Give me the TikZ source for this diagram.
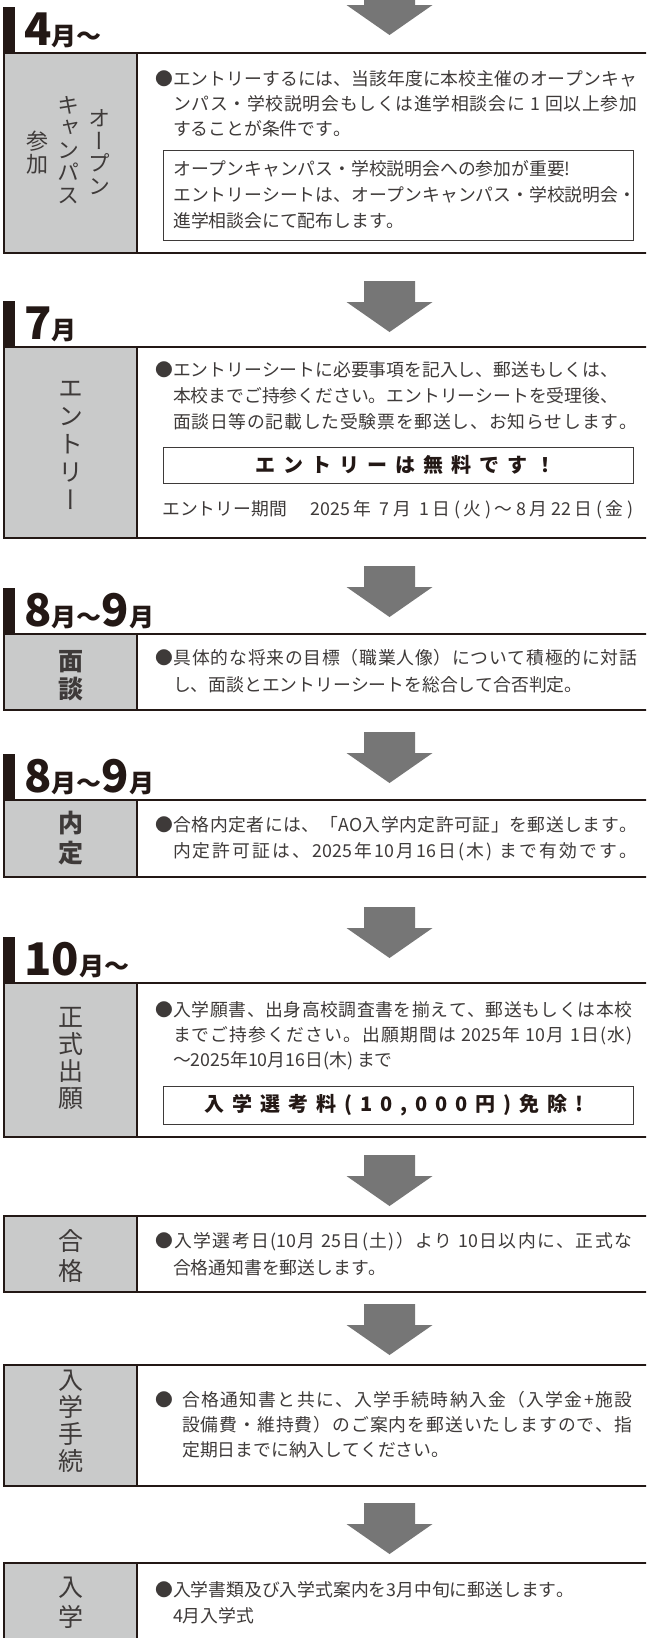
\documentclass[tikz,border=0pt]{standalone}
\usepackage{fontspec}
\newfontfamily\jp{Noto Sans CJK JP}
\newfontfamily\jpv[RawFeature=+vert]{Noto Sans CJK JP}
\newfontfamily\jpsp[LetterSpace=40]{Noto Sans CJK JP}
\newcount\cjkc
\def\setcjkrange#1#2{\cjkc=#1\relax
  \loop \XeTeXcharclass\cjkc=1\relax \advance\cjkc by 1\relax
  \ifnum\cjkc<#2\relax \repeat}
\setcjkrange{"3000}{"3100}
\setcjkrange{"4E00}{"A000}
\setcjkrange{"FF01}{"FF61}
\XeTeXinterchartokenstate=1
\newcommand{\jglue}{\hskip 0pt plus 1pt\relax}
\XeTeXinterchartoks 1 1 = {\jglue}
\XeTeXinterchartoks 0 1 = {\jglue}
\XeTeXinterchartoks 1 0 = {\jglue}
\definecolor{ink}{HTML}{231815}
\definecolor{txt}{HTML}{3E3A39}
\definecolor{colgray}{HTML}{C9CACA}
\definecolor{arrowgray}{HTML}{767676}
\newcommand{\jline}[2]{\hbox to #1pt{\spaceskip 0.25em plus 1pt\relax #2}}
\newcommand{\jind}{\hspace*{17.8pt}}
\newcommand{\nols}{\lineskiplimit -60pt\relax}
\newcommand{\nointer}{\XeTeXinterchartokenstate 0\relax}
\newcommand{\blockarrow}[2]{%
  \coordinate (#1) at (389.5,#2);
  \fill[arrowgray] ([shift={(-25.5,-51)}]#1) -- ([shift={(25.5,-51)}]#1)
    -- ([shift={(25.5,-30)}]#1) -- ([shift={(43,-30)}]#1) -- (#1)
    -- ([shift={(-43,-30)}]#1) -- ([shift={(-25.5,-30)}]#1) -- cycle;}
\tikzset{
  mainbox/.style={draw=ink, line width=2pt, fill=white, anchor=north west, minimum width=720pt, inner sep=0pt, outer sep=0pt},
  leftcol/.style={draw=ink, line width=2pt, fill=colgray, anchor=north west, minimum width=133pt, inner sep=0pt, outer sep=0pt},
  hdrbar/.style={fill=ink, anchor=south west, minimum width=12pt, minimum height=46pt, inner sep=0pt, outer sep=0pt},
  hdr/.style={anchor=base west, inner sep=0pt, text=ink, font=\jp\bfseries},
  body/.style={anchor=base west, inner sep=0pt, align=left, text=txt, font=\jp\fontsize{17.8}{#1}\selectfont\nols},
  body/.default=25.5,
  vlabel/.style={inner sep=0pt, align=center, text=txt, font=\jpv\fontsize{25}{#1}\selectfont\nols},
  vlabel/.default=28,
  vlabelb/.style={inner sep=0pt, align=center, text=txt, font=\jpv\bfseries\fontsize{25}{#1}\selectfont\nols},
  vlabelb/.default=28,
  vsmall/.style={inner sep=0pt, align=center, text=txt, font=\jpv\fontsize{22}{22.6}\selectfont\nols},
  notebox/.style={draw=txt, line width=0.9pt, anchor=north west, inner sep=0pt, minimum width=470pt},
  notetitle/.style={inner sep=0pt, text=ink, font=\nointer\jpsp\bfseries\fontsize{20}{20}\selectfont},
}
\newcommand{\hbig}[1]{{\fontsize{45}{45}\selectfont #1}}
\newcommand{\hsm}[1]{{\fontsize{25}{25}\selectfont #1}}
\begin{document}
\begin{tikzpicture}[x=1pt,y=-1pt]
\useasboundingbox (0,0) rectangle (646,1638);
\clip (0,0) rectangle (646,1638);
\fill[white] (0,0) rectangle (646,1638);

% arrows
\blockarrow{a1}{35}
\blockarrow{a2}{332}
\blockarrow{a3}{617}
\blockarrow{a4}{783}
\blockarrow{a5}{958}
\blockarrow{a6}{1206}
\blockarrow{a7}{1355}
\blockarrow{a8}{1554}

% ---------- box 1 ----------
\node[mainbox, minimum height=200pt] (b1) at (4,53) {};
\node[leftcol, minimum height=200pt] (c1) at (4,53) {};
\node[hdrbar] (hb1) at (3,53) {};
\node[hdr] (h1) at (24,45) {\hbig{4}\hsm{月～}};
\node[vsmall] (l1a) at (99,152) {オ\\ー\\プ\\ン};
\node[vsmall] (l1b) at (68.5,150) {キ\\ャ\\ン\\パ\\ス};
\node[vsmall] (l1c) at (37.5,152.5) {参\\加};
\node[body=25] (t1) at (155,135) {\jline{482}{●エントリーするには、当該年度に本校主催のオープンキャ}\\
  \jline{482}{\jind ンパス・学校説明会もしくは進学相談会に 1 回以上参加}\\
  \jind することが条件です。};
\node[notebox, minimum height=90pt] (n1) at (163,150) {};
\node[body=26] (t1b) at (173,227) {オープンキャンパス・学校説明会への参加が重要!\\
  エントリーシートは、オープンキャンパス・学校説明会・\\
  進学相談会にて配布します。};

% ---------- box 2 ----------
\node[mainbox, minimum height=191pt] (b2) at (4,347) {};
\node[leftcol, minimum height=191pt] (c2) at (4,347) {};
\node[hdrbar] (hb2) at (3,347) {};
\node[hdr] (h2) at (24,339) {\hbig{7}\hsm{月}};
\node[vlabel] (l2) at (70.5,445) {エ\\ン\\ト\\リ\\ー};
\node[body=26] (t2) at (155,428.5) {●エントリーシートに必要事項を記入し、郵送もしくは、\\
  \jind 本校までご持参ください。エントリーシートを受理後、\\
  \jline{482}{\jind 面談日等の記載した受験票を郵送し、お知らせします。}};
\node[notebox, minimum height=36pt] (n2) at (163,447) {};
\node[notetitle] (n2t) at (405,465) {エントリーは無料です！};
\node[body] (t2b) at (162,515) {\jline{471}{\mbox{エントリー期間}　\hspace{6pt}2025年 7月 1日(火)～8月22日(金)}};

% ---------- box 3 ----------
\node[mainbox, minimum height=76pt] (b3) at (4,634) {};
\node[leftcol, minimum height=76pt] (c3) at (4,634) {};
\node[hdrbar] (hb3) at (3,634) {};
\node[hdr] (h3) at (24,626) {\hbig{8}\hsm{月～}\hbig{9}\hsm{月}};
\node[vlabelb] (l3) at (70.5,676) {面\\談};
\node[body=27] (t3) at (155,691) {\jline{482}{●具体的な将来の目標（職業人像）について積極的に対話}\\
  \jind し、面談とエントリーシートを総合して合否判定。};

% ---------- box 4 ----------
\node[mainbox, minimum height=77pt] (b4) at (4,800) {};
\node[leftcol, minimum height=77pt] (c4) at (4,800) {};
\node[hdrbar] (hb4) at (3,800) {};
\node[hdr] (h4) at (24,792) {\hbig{8}\hsm{月～}\hbig{9}\hsm{月}};
\node[vlabelb=30] (l4) at (70.5,838) {内\\定};
\node[body] (t4) at (155,857) {\jline{482}{●合格内定者には、「AO入学内定許可証」を郵送します。}\\
  \jline{482}{\jind 内定許可証は、2025年10月16日(木) まで有効です。}};

% ---------- box 5 ----------
\node[mainbox, minimum height=154pt] (b5) at (4,983) {};
\node[leftcol, minimum height=154pt] (c5) at (4,983) {};
\node[hdrbar] (hb5) at (3,983) {};
\node[hdr] (h5) at (24,975) {\hbig{10}\hsm{月～}};
\node[vlabel=27] (l5) at (70.5,1058) {正\\式\\出\\願};
\node[body=25] (t5) at (155,1066.5) {\jline{477}{●入学願書、出身高校調査書を揃えて、郵送もしくは本校}\\
  \jline{477}{\jind までご持参ください。出願期間は 2025年 10月 1日(水)}\\
  \jind ～2025年10月16日(木) まで};
\node[notebox, minimum height=38pt] (n5) at (163,1086) {};
\node[notetitle] (n5t) at (394,1105) {入学選考料(10,000円)免除!};

% ---------- box 6 ----------
\node[mainbox, minimum height=76pt] (b6) at (4,1216) {};
\node[leftcol, minimum height=76pt] (c6) at (4,1216) {};
\node[vlabel=30] (l6) at (70.5,1256) {合\\格};
\node[body=27] (t6) at (155,1274) {\jline{477}{●入学選考日(10月 25日(土)）より 10日以内に、正式な}\\
  \jind 合格通知書を郵送します。};

% ---------- box 7 ----------
\node[mainbox, minimum height=121pt] (b7) at (4,1365) {};
\node[leftcol, minimum height=121pt] (c7) at (4,1365) {};
\node[vlabel=27] (l7) at (70.5,1421) {入\\学\\手\\続};
\node[body=25] (t7) at (155,1456) {\jline{477}{\makebox[27pt][l]{●}合格通知書と共に、入学手続時納入金（入学金+施設}\\
  \jline{477}{\hspace*{27pt}設備費・維持費）のご案内を郵送いたしますので、指}\\
  \hspace*{27pt}定期日までに納入してください。};

% ---------- box 8 ----------
\node[mainbox, minimum height=140pt] (b8) at (4,1563) {};
\node[leftcol, minimum height=140pt] (c8) at (4,1563) {};
\node[vlabel=30] (l8) at (70.5,1603) {入\\学};
\node[body=26] (t8) at (155,1622) {●入学書類及び入学式案内を3月中旬に郵送します。\\
  \jind 4月入学式};
\end{tikzpicture}
\end{document}
